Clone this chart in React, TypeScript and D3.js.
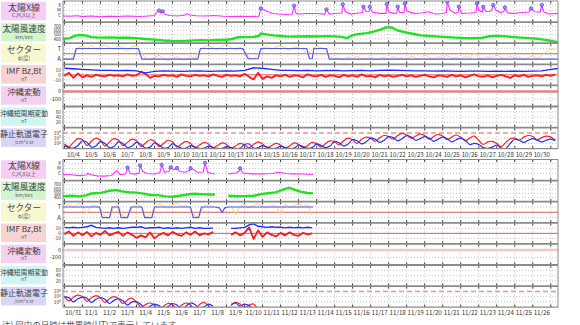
import React from 'react';
import * as d3 from 'd3';

type Pt = [number, number | null];

// ---------------- data ----------------
const TOP_DAY_LABELS = ['10/4','10/5','10/6','10/7','10/8','10/9','10/10','10/11','10/12','10/13','10/14','10/15','10/16','10/17','10/18','10/19','10/20','10/21','10/22','10/23','10/24','10/25','10/26','10/27','10/28','10/29','10/30'];
const BOTTOM_DAY_LABELS = ['10/31','11/1','11/2','11/3','11/4','11/5','11/6','11/7','11/8','11/9','11/10','11/11','11/12','11/13','11/14','11/15','11/16','11/17','11/18','11/19','11/20','11/21','11/22','11/23','11/24','11/25','11/26'];

const PANEL_TITLES = ['太陽X線','太陽風速度','セクター','IMF Bz,Bt','沖縄変動','沖縄短周期変動','静止軌道電子'];
const PANEL_UNITS = ['C,M,X以上','km/sec','φ(度)','nT','nT','nT','/cm²s sr'];

const XRAY_TICKS: [number, string][] = [[-4,'X'],[-5,'M'],[-6,'C']];
const WIND_TICKS = [700,600,500,400];
const SECTOR_TICKS: [number, string][] = [[315,'T'],[135,'A']];
const IMF_TICKS = [10,0,-10];
const OKI_TICKS = [0,-100];
const SHORT_TICKS = [60,40,20];
const ELEC_TICKS = [4,3,2];

// X-ray flux (log10 W/m2), [day, value]
const XRAY_TOP: Pt[] = [[-0.08,-6.2],[0.3,-6.25],[0.7,-6.15],[1.0,-6.3],[1.5,-6.2],[2.0,-6.35],[2.5,-6.25],[3.0,-6.3],[3.5,-6.2],[4.0,-6.3],[4.5,-6.25],[5.0,-6.1],[5.15,-5.3],[5.25,-5.1],[5.35,-5.6],[5.45,-5.25],[5.6,-5.9],[5.9,-6.1],[6.3,-6.2],[6.7,-6.0],[6.8,-5.7],[6.95,-6.0],[7.3,-6.15],[7.8,-6.2],[8.3,-6.1],[8.8,-6.25],[9.3,-6.3],[9.8,-6.25],[10.3,-6.3],[10.8,-6.25],[10.9,-4.66],[11.1,-5.0],[11.3,-5.34],[11.6,-5.7],[11.9,-5.8],[12.3,-5.9],[12.65,-5.8],[12.75,-4.14],[12.85,-5.6],[13.0,-5.8],[13.5,-5.7],[14.0,-5.7],[14.45,-5.8],[14.55,-4.86],[14.7,-5.8],[15.0,-5.7],[15.4,-5.6],[15.45,-3.86],[15.6,-5.34],[15.9,-5.8],[16.3,-5.6],[16.55,-5.5],[16.6,-4.34],[16.75,-5.34],[16.9,-5.3],[16.95,-4.34],[17.1,-5.46],[17.5,-5.66],[17.85,-5.66],[17.9,-3.8],[18.0,-5.4],[18.3,-5.66],[18.45,-5.6],[18.5,-4.34],[18.6,-5.5],[18.85,-5.5],[18.9,-3.66],[19.0,-5.2],[19.4,-5.66],[19.8,-5.6],[20.2,-5.34],[20.6,-5.8],[21.0,-5.7],[21.2,-5.5],[21.25,-3.34],[21.4,-5.0],[21.7,-5.66],[21.85,-5.5],[21.9,-4.34],[22.05,-5.66],[22.5,-5.6],[22.85,-5.5],[22.9,-3.66],[23.0,-5.0],[23.2,-5.4],[23.25,-4.34],[23.4,-5.34],[23.7,-5.2],[23.8,-4.0],[23.95,-5.0],[24.2,-5.5],[24.4,-5.3],[24.45,-4.46],[24.6,-5.6],[25.0,-5.66],[25.4,-5.5],[25.8,-5.4],[25.9,-4.66],[26.1,-5.34],[26.4,-5.4],[26.5,-4.0],[26.6,-5.34],[26.9,-5.8],[27.4,-5.66]];
const XRAY_BOTTOM: Pt[] = [[-0.08,-6.2],[0.4,-6.25],[0.8,-6.4],[1.2,-6.3],[1.3,-5.9],[1.4,-6.2],[1.8,-6.45],[2.2,-6.5],[2.6,-6.4],[2.9,-5.4],[3.1,-6.2],[3.4,-6.1],[3.5,-4.8],[3.65,-6.0],[3.9,-6.1],[4.15,-5.9],[4.2,-4.4],[4.35,-5.6],[4.6,-6.0],[5.0,-6.1],[5.3,-5.8],[5.4,-4.26],[5.55,-5.7],[5.8,-5.6],[5.9,-4.74],[6.05,-5.2],[6.2,-5.1],[6.25,-4.9],[6.4,-5.6],[6.7,-5.74],[6.95,-5.4],[7.0,-4.94],[7.15,-5.2],[7.4,-5.74],[7.7,-5.7],[7.8,-3.86],[7.95,-5.74],[8.2,-6.0],[8.35,-6.06],[8.4,null],[9.1,-6.06],[9.5,-5.9],[9.7,-5.5],[9.75,-4.94],[9.9,-5.9],[10.4,-6.06],[11.0,-6.06],[11.5,-6.0],[11.9,-5.74],[12.3,-6.0],[12.7,-6.06],[13.2,-6.1],[13.8,-6.2]];
const FLARES_TOP: Pt[] = [[5.25,-5.1],[5.45,-5.25],[10.9,-4.66],[12.75,-4.14],[14.55,-4.86],[15.45,-3.86],[16.6,-4.34],[16.95,-4.34],[17.9,-3.8],[18.5,-4.34],[18.9,-3.66],[21.25,-3.34],[21.9,-4.34],[22.9,-3.66],[23.25,-4.34],[23.8,-4.0],[24.45,-4.46],[25.9,-4.66],[26.5,-4.0]];
const FLARES_BOTTOM: Pt[] = [[3.5,-4.8],[4.2,-4.4],[5.4,-4.26],[5.9,-4.74],[6.25,-4.9],[7.0,-4.94],[7.8,-3.86],[9.75,-4.94]];

// Solar wind speed (km/s), [day, value]
const WIND_TOP: Pt[] = [[-0.08,398],[0.3,420],[0.6,480],[0.9,495],[1.2,480],[1.5,445],[2,432],[2.5,438],[3,428],[3.5,432],[4,420],[4.5,400],[5,385],[5.5,365],[6,352],[6.5,350],[7,362],[7.5,372],[8,368],[8.5,375],[9,380],[9.3,400],[9.6,440],[10,445],[10.5,450],[10.8,470],[10.9,530],[11.2,510],[11.6,485],[12,470],[12.5,455],[13,458],[13.5,465],[14,458],[14.5,468],[15,462],[15.4,450],[15.7,422],[16,490],[16.4,520],[16.8,540],[17.2,580],[17.5,615],[17.8,665],[18,680],[18.2,665],[18.5,600],[19,550],[19.4,517],[19.8,485],[20.3,469],[20.8,455],[21.25,445],[21.7,432],[22.1,422],[22.6,418],[23.1,422],[23.6,465],[24,470],[24.4,468],[24.8,450],[25.3,433],[25.8,420],[26.4,398],[26.9,365],[27.4,326]];
const WIND_BOTTOM: Pt[] = [[-0.08,430],[0.4,440],[0.8,425],[1.2,450],[1.5,495],[2,510],[2.5,560],[2.9,575],[3.2,545],[3.6,525],[4,515],[4.4,490],[4.8,460],[5.2,455],[5.6,425],[6,418],[6.4,440],[6.8,470],[7.2,490],[7.6,480],[8,470],[8.35,472],[8.4,null],[9.1,440],[9.5,432],[10,428],[10.5,440],[10.9,480],[11.3,500],[11.7,520],[12,560],[12.3,610],[12.5,630],[12.8,580],[13.1,540],[13.5,505],[13.8,498]];

// Sector (deg): blue sector line [day, value]; yellow phi every 0.25 day
const SECTOR_TOP: Pt[] = [[-0.08,135],[0.5,135],[0.65,315],[4.1,315],[4.3,135],[7.4,135],[7.55,315],[9.9,315],[10.2,140],[10.75,140],[10.9,315],[13.45,315],[13.6,140],[13.75,140],[13.85,315],[14.55,315],[14.7,135],[27.4,135]];
const SECTOR_BOTTOM: Pt[] = [[-0.08,315],[1.95,315],[2.1,135],[2.5,135],[2.65,315],[3.0,315],[3.15,135],[3.5,135],[3.7,315],[4.3,315],[4.45,135],[4.85,135],[5.0,315],[7.0,315],[7.15,135],[7.45,135],[7.6,315],[8.35,315],[8.6,300],[8.75,225],[8.9,300],[9.1,315],[13.8,315]];
const PHI_TOP: (number | null)[] = [150,130,175,330,355,310,365,300,340,380,325,305,355,330,270,345,360,250,150,125,160,200,140,110,150,175,130,120,185,145,290,340,370,320,300,355,385,330,300,340,260,160,140,210,320,350,300,335,370,315,290,345,325,300,200,310,350,330,280,170,140,155,120,165,145,185,130,150,170,125,145,160,130,175,140,155,120,190,150,135,220,160,140,175,150,200,145,165,130,180,155,240,160,140,175,150,210,165,140,185,155,170,135,160,190,145,200,260,310,290];
const PHI_BOTTOM: (number | null)[] = [340,360,300,380,320,210,350,335,290,150,130,320,345,160,140,300,360,330,140,170,310,365,330,290,350,380,320,340,300,150,160,330,355,310,null,null,null,340,180,330,360,300,345,370,320,290,350,330,200,360,310,340,375,320,350,180];

// IMF (nT): Bz every 0.25 day, Bt every 0.5 day (top) / 0.25 day (bottom)
const BZ_TOP: (number | null)[] = [-2,4,-6,3,-5,-1,-4,0,-2,-3,0,-2,-1,-3,1,-2,-1,6,2,-6,-2,-3,0,-2,-1,-4,1,-2,-3,0,-2,-1,-3,1,-2,-4,0,-2,-1,-3,2,-4,-9,4,-8,-3,-6,-1,-3,0,-4,-1,-2,-5,1,-2,-3,0,-4,-1,-2,-5,0,-3,-1,-4,1,-3,-2,-5,0,-3,-1,-4,-2,0,-3,-1,-4,-2,0,-3,-5,-1,-2,-4,0,-3,-1,-5,-2,1,-3,-4,-1,-5,-2,0,-3,-6,-1,-3,0,-4,-2,-1,-3,0,-2,1];
const BT_TOP: (number | null)[] = [13,12,11,10,9,9,8.5,9,8,4,7,8,7.5,7,7.5,8,7,7.5,8,7.5,9,14,13,11,9,9,8.5,9,8,8.5,9,8,8.5,9,8,9,9.5,9,8.5,8,8,7.5,8,7.5,7,7.5,7.5,7,7.5,7,7.5,7,7.5,8,11,13];
const BZ_BOTTOM: (number | null)[] = [-2,4,-5,2,-4,3,-6,1,-3,5,-4,0,3,-5,2,-3,-9,-4,-8,2,-10,-3,1,-4,3,-2,-5,2,-3,4,-4,0,-2,3,null,null,null,-3,2,-4,1,12,-11,6,-7,2,-3,-6,1,-4,2,-3,-5,1,-2,0];
const BT_BOTTOM: (number | null)[] = [12,11,12,11,12,13,16,12,11,10,11,10,11,10,11,12,12,13,10,11,11,12,10,11,10,11,10,11,12,10,11,10,10,11,null,null,null,10,10,11,12,17,19,14,13,12,13,12,12,11,12,11,12,11,12,11];

// Geostationary electrons (log10 flux) every 0.25 day
const E_RED_TOP: (number | null)[] = [1.9,1.4,2.2,2.9,2.7,1.6,2.4,3.0,2.6,1.5,2.3,2.9,2.6,1.6,2.2,2.8,2.5,1.4,2.1,2.7,2.4,1.4,2.0,2.6,2.3,1.3,1.9,2.4,2.0,1.2,1.7,2.2,1.9,1.2,1.6,2.1,1.8,1.15,1.5,2.0,1.7,1.2,1.8,2.3,1.9,1.2,1.6,2.0,1.7,1.15,1.5,2.1,1.8,1.2,1.6,2.2,1.9,1.3,2.0,2.5,2.3,1.7,2.5,3.0,2.7,2.0,2.8,3.2,3.0,2.4,3.1,3.5,3.3,2.8,3.5,3.9,3.6,3.0,3.4,3.8,3.5,2.8,3.3,3.7,3.4,2.7,3.2,3.6,3.2,2.5,3.0,3.4,2.6,1.8,2.3,2.4,2.0,1.4,2.2,2.9,3.0,2.6,3.2,3.5,3.3,2.7,3.1,3.4,3.2,2.6];
const E_BLUE_TOP: (number | null)[] = [1.6,1.2,1.1,1.6,2.5,2.2,1.3,1.5,2.4,2.0,1.2,1.4,2.3,2.0,1.2,1.5,2.2,1.8,1.1,1.3,2.1,1.7,1.1,1.2,1.9,1.5,1.1,1.1,1.6,1.3,1.05,1.1,1.5,1.2,1.05,1.05,1.4,1.2,1.05,1.1,1.8,1.9,1.1,1.2,1.6,1.3,1.05,1.1,1.5,1.2,1.05,1.1,1.7,1.4,1.1,1.2,1.9,1.6,1.2,1.5,2.4,2.1,1.5,1.9,2.7,2.5,1.9,2.3,3.0,2.8,2.2,2.6,3.3,3.1,2.5,2.9,3.5,3.2,2.6,2.9,3.3,3.0,2.4,2.8,3.2,2.9,2.3,2.7,3.0,2.6,1.8,2.0,1.8,1.2,1.05,1.3,1.7,1.1,1.05,2.0,2.8,2.6,2.2,2.6,2.9,2.6,2.3,2.6,2.8,2.5];
const E_RED_BOTTOM: (number | null)[] = [3.0,2.2,2.9,3.3,3.0,2.1,2.8,3.2,2.8,1.9,2.6,3.0,2.6,1.7,2.4,2.7,2.0,1.0,1.5,1.8,1.4,0.5,1.2,1.7,1.5,0.6,1.4,1.8,1.4,0.5,1.5,1.9,1.3,0.5,null,null,null,1.3,1.9,1.6,0.9,1.4,1.6,0.5];
const E_BLUE_BOTTOM: (number | null)[] = [3.0,2.8,2.0,2.6,2.9,2.7,1.9,2.5,2.8,2.5,1.7,2.3,2.6,2.2,1.4,2.0,2.0,1.5,0.6,1.2,1.6,1.3,0.5,1.1,1.7,1.4,0.5,1.2,1.8,1.5,0.6,1.1,1.6,1.2,null,null,null,1.5,1.8,1.2,1.6,1.3,0.5,0.5];

// ---------------- layout / style ----------------
const PLOT_X0 = 63;
const PLOT_X1 = 558;
const X_DOMAIN: [number, number] = [-0.08, 27.4];
const PH = 21.1;
const CHART_TOPS = [1, 159.5];
const BOX_COLORS = ['#f6cdf4','#d3f5cc','#f9f7cf','#f8d3d3','#f4d0f3','#d0f5f3','#dad5f7'];
const TITLE_SIZES = [9, 8.6, 8.6, 8.2, 8.4, 6.9, 8.0];
const TICK_SIZES = [4.8, 4.4, 6, 4.9, 5.6, 4.8, 4.8];
const PANEL_DOMAINS: [number, number][] = [[-7.4,-3.2],[300,800],[45,405],[-21,21],[-200,80],[0,80],[1,5]];
const FONT = '"Noto Sans CJK JP", "Noto Sans", sans-serif';

const steps = (arr: (number | null)[], step: number): Pt[] => arr.map((v, i) => [i * step, v]);

function Chart({ top, labels, d, cid, okiColor }: any) {
  const x = d3.scaleLinear().domain(X_DOMAIN).range([PLOT_X0, PLOT_X1]);
  const ys = PANEL_DOMAINS.map((dom, i) =>
    d3.scaleLinear().domain(dom).range([top + (i + 1) * PH, top + i * PH])
  );
  const mk = (ys: d3.ScaleLinear<number, number>, curve: any = d3.curveLinear) =>
    d3.line<Pt>().defined(p => p[1] != null).x(p => x(p[0])).y(p => ys(p[1] as number)).curve(curve);
  const bottom = top + 7 * PH;
  const days = d3.range(0, 28);

  const hGrid = (i: number, vals: number[]) =>
    vals.map((v, k) => (
      <line key={`g${i}-${k}`} x1={PLOT_X0} x2={PLOT_X1} y1={ys[i](v)} y2={ys[i](v)}
        stroke="#b8b8b8" strokeWidth={0.8} strokeDasharray="1,2" />
    ));
  const tickText = (i: number, v: number, t: any, k: number) => (
    <text key={`t${i}-${k}`} x={61} y={ys[i](v) + TICK_SIZES[i] * 0.36} fontSize={TICK_SIZES[i]} textAnchor="end" fill="#333">{t}</text>
  );

  return (
    <g>
      <defs>
        {d3.range(7).map(i => (
          <clipPath key={i} id={`c${cid}-${i}`}>
            <rect x={PLOT_X0} y={top + i * PH} width={PLOT_X1 - PLOT_X0} height={PH} />
          </clipPath>
        ))}
      </defs>
      {/* label boxes */}
      {PANEL_TITLES.map((t, i) => (
        <g key={`b${i}`}>
          <rect x={1} y={top + i * PH + 0.8} width={45} height={PH - 2.6} fill={BOX_COLORS[i]} />
          <text x={24} y={top + i * PH + 9.6} fontSize={TITLE_SIZES[i]} textAnchor="middle" fill="#444">{t}</text>
          <text x={24} y={top + i * PH + 16.4} fontSize={5.2} textAnchor="middle" fill="#666">{PANEL_UNITS[i]}</text>
        </g>
      ))}
      {/* white plot background */}
      <rect x={PLOT_X0} y={top} width={PLOT_X1 - PLOT_X0} height={7 * PH} fill="#fff" />
      {/* horizontal dotted grids */}
      {hGrid(0, XRAY_TICKS.map(t => t[0]))}
      {hGrid(1, WIND_TICKS)}
      {hGrid(2, SECTOR_TICKS.map(t => t[0]))}
      {hGrid(3, [10, -10])}
      {hGrid(4, [-100])}
      {hGrid(5, SHORT_TICKS)}
      {hGrid(6, [3, 2])}
      {/* vertical day grid */}
      {days.map(k => (
        <line key={`v${k}`} x1={x(k)} x2={x(k)} y1={top} y2={bottom} stroke="#aaa" strokeWidth={0.8} strokeDasharray="1,2" />
      ))}
      {days.map(k => d3.range(8).map(j => (
        <line key={`vt${k}-${j}`} x1={x(k)} x2={x(k)} y1={top + j * PH - (j > 0 ? 2.5 : 0)} y2={top + j * PH + (j < 7 ? 2.5 : 0)} stroke="#333" strokeWidth={1} />
      )))}
      {/* reference lines */}
      <line x1={PLOT_X0} x2={PLOT_X1} y1={ys[2](225)} y2={ys[2](225)} stroke="#d85a5a" strokeWidth={1} />
      <line x1={PLOT_X0} x2={PLOT_X1} y1={ys[3](0)} y2={ys[3](0)} stroke="#d85a5a" strokeWidth={1} />
      <line x1={PLOT_X0} x2={PLOT_X1} y1={ys[4](0)} y2={ys[4](0)} stroke={okiColor} strokeWidth={2.4} />
      <line x1={PLOT_X0} x2={PLOT_X1} y1={ys[6](4)} y2={ys[6](4)} stroke="#ef8f8f" strokeWidth={1.5} strokeDasharray="5,3" />
      {/* data */}
      <g clipPath={`url(#c${cid}-0)`}>
        <path d={mk(ys[0])(d.xray) || ''} fill="none" stroke="#ff30ff" strokeWidth={1.1} />
        {d.flares.map((p: Pt, k: number) => (
          <circle key={k} cx={x(p[0])} cy={ys[0](p[1] as number)} r={1.7} fill="#9a8cff" stroke="#3a3adc" strokeWidth={0.6} />
        ))}
      </g>
      <g clipPath={`url(#c${cid}-1)`}>
        <path d={mk(ys[1])(d.wind) || ''} fill="none" stroke="#22e022" strokeWidth={2.4} strokeLinejoin="round" />
      </g>
      <g clipPath={`url(#c${cid}-2)`}>
        <path d={mk(ys[2])(steps(d.phi, 0.25)) || ''} fill="none" stroke="#f3d66e" strokeWidth={1} />
        <path d={mk(ys[2])(d.sector) || ''} fill="none" stroke="#4a5cf5" strokeWidth={1.2} />
      </g>
      <g clipPath={`url(#c${cid}-3)`}>
        <path d={mk(ys[3])(steps(d.bz, 0.25)) || ''} fill="none" stroke="#ff1a1a" strokeWidth={1.8} strokeLinejoin="round" />
        <path d={mk(ys[3])(steps(d.bt, d.btStep)) || ''} fill="none" stroke="#1f2cff" strokeWidth={1.4} />
      </g>
      <g clipPath={`url(#c${cid}-6)`}>
        <path d={mk(ys[6], d3.curveCatmullRom)(steps(d.eRed, 0.25)) || ''} fill="none" stroke="#ff2020" strokeWidth={1.2} />
        <path d={mk(ys[6], d3.curveCatmullRom)(steps(d.eBlue, 0.25)) || ''} fill="none" stroke="#2030ff" strokeWidth={1.2} />
      </g>
      {/* panel separators */}
      {d3.range(8).map(j => (
        <line key={`s${j}`} x1={PLOT_X0} x2={PLOT_X1} y1={top + j * PH} y2={top + j * PH} stroke="#8a8a8a" strokeWidth={j === 0 || j === 7 ? 1.2 : 1.8} />
      ))}
      <line x1={PLOT_X0} x2={PLOT_X0} y1={top} y2={bottom} stroke="#8a8a8a" strokeWidth={1} />
      <line x1={PLOT_X1} x2={PLOT_X1} y1={top} y2={bottom} stroke="#8a8a8a" strokeWidth={1} />
      {/* y tick labels */}
      {XRAY_TICKS.map((t, k) => tickText(0, t[0], t[1], k))}
      {WIND_TICKS.map((t, k) => tickText(1, t, t, k))}
      {SECTOR_TICKS.map((t, k) => tickText(2, t[0], t[1], k))}
      {IMF_TICKS.map((t, k) => tickText(3, t, t, k))}
      {OKI_TICKS.map((t, k) => tickText(4, t, t, k))}
      {SHORT_TICKS.map((t, k) => tickText(5, t, t, k))}
      {ELEC_TICKS.map((t, k) => tickText(6, t, <>10<tspan dy={-1.6} fontSize={3.4}>{t}</tspan></>, k))}
      {/* x labels */}
      {labels.map((l: string, k: number) => (
        <text key={`xl${k}`} x={x(k + 0.5)} y={bottom + 8} fontSize={6.2} textAnchor="middle" fill="#333">{l}</text>
      ))}
    </g>
  );
}

export default function App() {
  const topData = {
    xray: XRAY_TOP, flares: FLARES_TOP, wind: WIND_TOP, sector: SECTOR_TOP, phi: PHI_TOP,
    bz: BZ_TOP, bt: BT_TOP, btStep: 0.5, eRed: E_RED_TOP, eBlue: E_BLUE_TOP,
  };
  const bottomData = {
    xray: XRAY_BOTTOM, flares: FLARES_BOTTOM, wind: WIND_BOTTOM, sector: SECTOR_BOTTOM, phi: PHI_BOTTOM,
    bz: BZ_BOTTOM, bt: BT_BOTTOM, btStep: 0.25, eRed: E_RED_BOTTOM, eBlue: E_BLUE_BOTTOM,
  };
  return (
    <svg width={580} height={325} viewBox="0 0 580 325"
      style={{ position: 'absolute', left: 0, top: 0, display: 'block', background: '#fff', fontFamily: FONT }}>
      <rect x={0} y={0} width={580} height={325} fill="#fff" />
      <Chart top={CHART_TOPS[0]} labels={TOP_DAY_LABELS} d={topData} cid="t" okiColor="#e08484" />
      <Chart top={CHART_TOPS[1]} labels={BOTTOM_DAY_LABELS} d={bottomData} cid="b" okiColor="#f3c6c6" />
      <text x={2} y={328} fontSize={8.5} fill="#555">注)  図中の日時は世界時(UT)で表示しています。</text>
    </svg>
  );
}
